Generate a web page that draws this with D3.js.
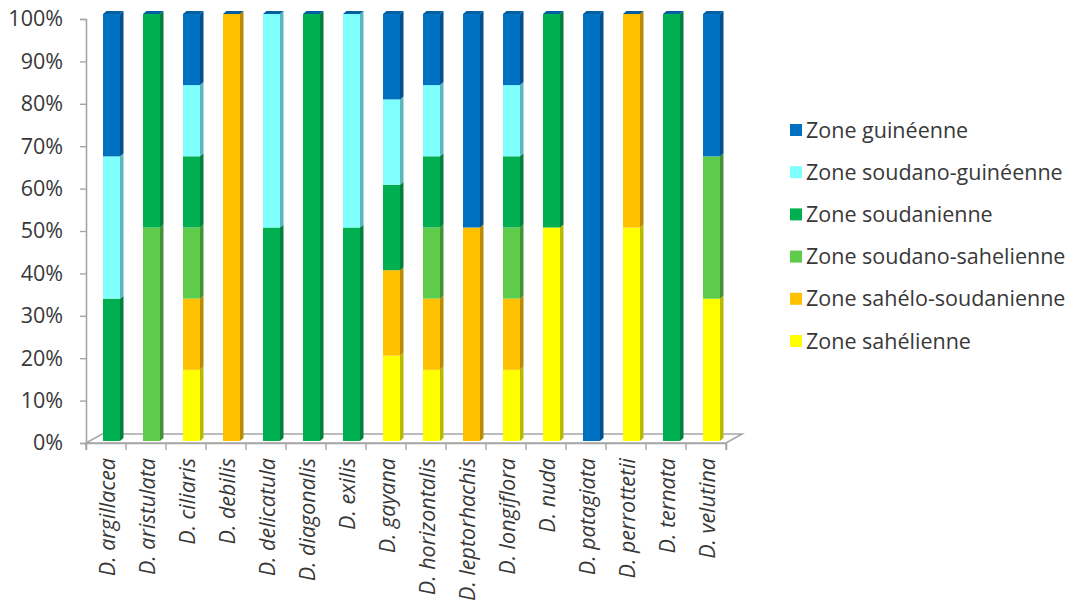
<!DOCTYPE html>
<html>
<head>
<meta charset="utf-8">
<script src="https://cdn.jsdelivr.net/npm/d3@7"></script>
<style>
  body { margin: 0; background: #fff; }
  svg { display: block; font-family: "Open Sans", "Liberation Sans", sans-serif; }
</style>
</head>
<body>
<svg id="chart" width="1074" height="609"></svg>
<script>
// categories (species) and zone series, bottom of stack first
const species = ["D. argillacea", "D. aristulata", "D. ciliaris", "D. debilis", "D. delicatula",
  "D. diagonalis", "D. exilis", "D. gayana", "D. horizontalis", "D. leptorhachis",
  "D. longiflora", "D. nuda", "D. patagiata", "D. perrottetii", "D. ternata", "D. velutina"];

const sahelienne        = [0, 0, 16.67, 0, 0, 0, 0, 20, 16.67, 0, 16.67, 50, 0, 50, 0, 33.33];
const saheloSoudanienne = [0, 0, 16.67, 100, 0, 0, 0, 20, 16.67, 50, 16.67, 0, 0, 50, 0, 0];
const soudanoSahelienne = [0, 50, 16.67, 0, 0, 0, 0, 0, 16.67, 0, 16.67, 0, 0, 0, 0, 33.33];
const soudanienne       = [33.33, 50, 16.67, 0, 50, 100, 50, 20, 16.67, 0, 16.67, 50, 0, 0, 100, 0];
const soudanoGuineenne  = [33.33, 0, 16.67, 0, 50, 0, 50, 20, 16.67, 0, 16.67, 0, 0, 0, 0, 0];
const guineenne         = [33.34, 0, 16.67, 0, 0, 0, 0, 20, 16.67, 50, 16.67, 0, 100, 0, 0, 33.34];

const yTicks = [0, 10, 20, 30, 40, 50, 60, 70, 80, 90, 100];

const series = [
  { key: "sahelienne",        label: "Zone sahélienne",         color: "#FFFF00", values: sahelienne },
  { key: "saheloSoudanienne", label: "Zone sahélo-soudanienne", color: "#FFC000", values: saheloSoudanienne },
  { key: "soudanoSahelienne", label: "Zone soudano-sahelienne", color: "#5FCB4B", values: soudanoSahelienne },
  { key: "soudanienne",       label: "Zone soudanienne",        color: "#00B050", values: soudanienne },
  { key: "soudanoGuineenne",  label: "Zone soudano-guinéenne",  color: "#80FFFF", values: soudanoGuineenne },
  { key: "guineenne",         label: "Zone guinéenne",          color: "#0070C0", values: guineenne }
];

const rows = species.map((s, i) => {
  const r = { species: s };
  series.forEach(se => { r[se.key] = se.values[i]; });
  return r;
});
const stacked = d3.stack().keys(series.map(s => s.key))(rows);

const svg = d3.select("#chart");
const axisColor = "#A6A6A6";
const textColor = "#383838";

// front axis scales
const x = d3.scaleBand().domain(species).range([86, 726]).paddingInner(0).paddingOuter(0);
const yAxisScale = d3.scaleLinear().domain([0, 100]).range([443, 19]);
// bars sit mid-depth, so they project slightly higher than the front axis
const yBar = d3.scaleLinear().domain([0, 100]).range([441, 14]);

const depthX = 16, depthY = 9;      // floor depth
const barDX = 3.5, barDY = 3;       // bar depth
const barOffset = 17, barW = 17;

// floor
const x0 = x.range()[0], x1 = x.range()[1], yF = yAxisScale(0);
svg.append("path")
  .attr("d", `M${x0},${yF} L${x1},${yF} L${x1 + depthX},${yF - depthY} L${x0 + depthX},${yF - depthY} Z`)
  .attr("fill", "#fff").attr("stroke", axisColor).attr("stroke-width", 1.6);

// y axis
const yAxisG = svg.append("g").attr("transform", `translate(${x0},0)`)
  .call(d3.axisLeft(yAxisScale).tickValues(yTicks).tickSize(6).tickPadding(17).tickFormat(d => d + "%"));
yAxisG.select(".domain").attr("stroke", axisColor).attr("stroke-width", 1.6);
yAxisG.selectAll(".tick line").attr("stroke", axisColor).attr("stroke-width", 1.4);
yAxisG.selectAll(".tick text").attr("font-size", "21.5px").attr("fill", textColor)
  .attr("font-family", "'Open Sans', sans-serif");

// x axis
const xAxisG = svg.append("g").attr("transform", `translate(0,${yF})`)
  .call(d3.axisBottom(x).tickSize(7).tickSizeOuter(7).tickFormat(""));
xAxisG.select(".domain").attr("stroke", axisColor).attr("stroke-width", 1.6);
xAxisG.selectAll(".tick line").attr("stroke", axisColor).attr("stroke-width", 1.4)
  .attr("transform", `translate(${-x.bandwidth() / 2},0)`);
xAxisG.append("line").attr("x1", x1).attr("x2", x1).attr("y1", 0).attr("y2", 7)
  .attr("stroke", axisColor).attr("stroke-width", 1.4);

// category labels
svg.append("g").selectAll("text").data(species).join("text")
  .attr("transform", d => `translate(${x(d) + x.bandwidth() / 2 + 9},458) rotate(-90)`)
  .attr("text-anchor", "end")
  .attr("font-size", "21.5px").attr("font-style", "italic").attr("fill", textColor)
  .text(d => d);

// bars
const barsG = svg.append("g");
stacked.forEach((layer, li) => {
  const s = series[li];
  const side = d3.color(s.color).darker(0.9).formatHex();
  layer.forEach((d, i) => {
    if (d[1] - d[0] <= 0) return;
    const bx = x(species[i]) + barOffset;
    const yTop = yBar(d[1]), yBot = yBar(d[0]);
    barsG.append("rect").attr("x", bx).attr("y", yTop).attr("width", barW).attr("height", yBot - yTop)
      .attr("fill", s.color);
    barsG.append("path")
      .attr("d", `M${bx + barW},${yTop} L${bx + barW + barDX},${yTop - barDY} L${bx + barW + barDX},${yBot - barDY} L${bx + barW},${yBot} Z`)
      .attr("fill", side);
  });
});
// top faces (zero-height top series shows its colour on top of every stack)
const topColor = d3.color(series[series.length - 1].color).darker(0.5).formatHex();
species.forEach(sp => {
  const bx = x(sp) + barOffset, yTop = yBar(100);
  barsG.append("path")
    .attr("d", `M${bx},${yTop} L${bx + barW},${yTop} L${bx + barW + barDX},${yTop - barDY} L${bx + barDX},${yTop - barDY} Z`)
    .attr("fill", topColor);
});

// legend
const legend = svg.append("g").attr("transform", "translate(790,130)");
series.slice().reverse().forEach((s, i) => {
  const g = legend.append("g").attr("transform", `translate(0,${i * 42.2})`);
  g.append("rect").attr("x", 0).attr("y", -6).attr("width", 12).attr("height", 12).attr("fill", s.color);
  g.append("text").attr("x", 16).attr("y", 0).attr("dy", "0.35em")
    .attr("font-size", "21.5px").attr("fill", textColor).text(s.label);
});
</script>
</body>
</html>
